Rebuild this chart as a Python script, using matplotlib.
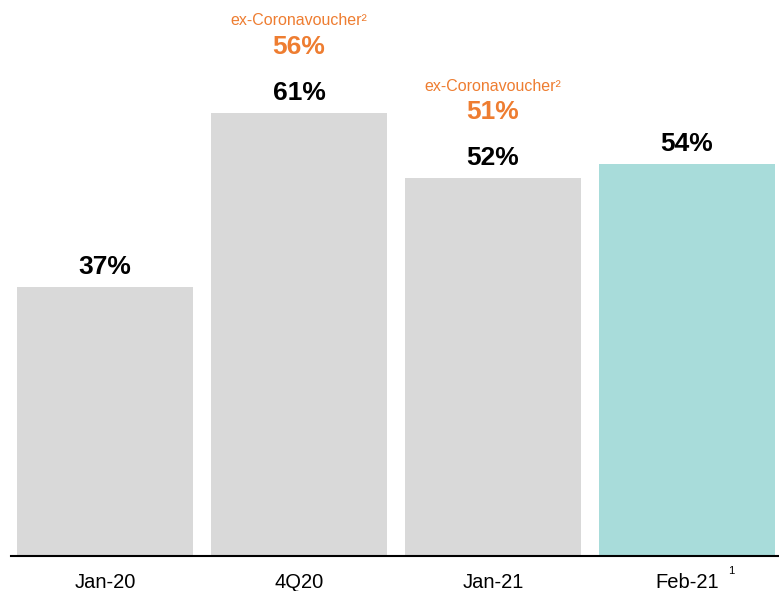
import matplotlib.pyplot as plt

plt.rcParams["font.family"] = ["Liberation Sans", "DejaVu Sans"]

periods = ["Jan-20", "4Q20", "Jan-21", "Feb-21"]
share = [37, 61, 52, 54]
ex_voucher = [None, 56, 51, None]
bar_colors = ["#d9d9d9", "#d9d9d9", "#d9d9d9", "#a8dcda"]
ORANGE = "#ee7d31"

fig = plt.figure(figsize=(7.79, 5.91), dpi=100)
ax = fig.add_axes([11 / 779, 1 - 556 / 591, 1 - 11 / 779, 545 / 591])

x = range(len(periods))
bars = ax.bar(x, share, width=0.907, color=bar_colors, zorder=2)
ax.set_xlim(-0.485, 3.474)
ax.set_ylim(0, 75)

for rect, val, exv in zip(bars, share, ex_voucher):
    cx = rect.get_x() + rect.get_width() / 2
    top = rect.get_height()
    ax.annotate(f"{val}%", (cx, top), xytext=(0, 20), textcoords="offset pixels",
                ha="center", va="center", fontsize=19, fontweight="bold",
                color="black", annotation_clip=False)
    if exv is not None:
        ax.annotate(f"{exv}%", (cx, top), xytext=(0, 66), textcoords="offset pixels",
                    ha="center", va="center", fontsize=19, fontweight="bold",
                    color=ORANGE, annotation_clip=False)
        ax.annotate("ex-Coronavoucher²", (cx, top), xytext=(0, 92),
                    textcoords="offset pixels", ha="center", va="center",
                    fontsize=11.5, color=ORANGE, annotation_clip=False)

ax.set_xticks(list(x))
ax.set_xticklabels(periods, fontsize=14.5)
ax.tick_params(axis="x", length=0, pad=12.5)
ax.set_yticks([])
for side in ("top", "right", "left"):
    ax.spines[side].set_visible(False)
ax.spines["bottom"].set_linewidth(1.5)
ax.spines["bottom"].set_zorder(3)

# footnote marker next to the last period
ax.annotate("1", (3, 0), xytext=(44, -15), textcoords="offset pixels",
            ha="center", va="center", fontsize=8, annotation_clip=False)

fig.savefig("out.png", dpi=100)
